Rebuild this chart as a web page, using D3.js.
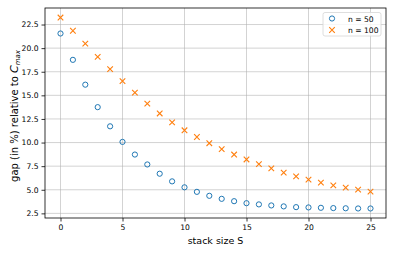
<!DOCTYPE html>
<html>
<head>
<meta charset="utf-8">
<script src="https://cdn.jsdelivr.net/npm/d3@7"></script>
<style>
  body { margin: 0; background: #fff; }
  text { font-family: "DejaVu Sans", sans-serif; fill: #000; }
</style>
</head>
<body>
<div id="chart"></div>
<script>
// stack sizes S = 0..25
const stackSizes = d3.range(0, 26);

// gap (in %) for n = 50
const gapN50 = [21.55, 18.76, 16.13, 13.75, 11.72, 10.07, 8.73, 7.68, 6.70, 5.89,
  5.26, 4.78, 4.36, 4.04, 3.79, 3.58, 3.45, 3.34, 3.24, 3.16,
  3.13, 3.09, 3.06, 3.04, 3.02, 3.02];

// gap (in %) for n = 100
const gapN100 = [23.24, 21.84, 20.47, 19.07, 17.77, 16.51, 15.29, 14.13, 13.08, 12.14,
  11.30, 10.59, 9.93, 9.30, 8.73, 8.21, 7.72, 7.26, 6.81, 6.42,
  6.07, 5.76, 5.47, 5.23, 5.02, 4.81];

const xTicks = [0, 5, 10, 15, 20, 25];
const yTicks = [2.5, 5.0, 7.5, 10.0, 12.5, 15.0, 17.5, 20.0, 22.5];
const seriesNames = ["n = 50", "n = 100"];

const width = 395;
const height = 254;
const margin = { top: 8, right: 9, bottom: 36, left: 45 };

const svg = d3.select("#chart")
  .append("svg")
  .attr("width", width)
  .attr("height", height);

const x = d3.scaleLinear()
  .domain([-1.25, 26.25])
  .range([margin.left, width - margin.right]);

const y = d3.scaleLinear()
  .domain([2.01, 24.25])
  .range([height - margin.bottom, margin.top]);

// --- Grid ---
const grid = svg.append("g").attr("stroke", "#b0b0b0").attr("stroke-opacity", 0.7).attr("stroke-width", 0.8);
grid.selectAll(".gx").data(xTicks).join("line")
  .attr("x1", d => x(d)).attr("x2", d => x(d))
  .attr("y1", margin.top).attr("y2", height - margin.bottom);
grid.selectAll(".gy").data(yTicks).join("line")
  .attr("x1", margin.left).attr("x2", width - margin.right)
  .attr("y1", d => y(d)).attr("y2", d => y(d));

// --- Axes ---
const xAxis = svg.append("g")
  .attr("transform", `translate(0,${height - margin.bottom})`)
  .call(d3.axisBottom(x).tickValues(xTicks).tickSize(3.5).tickPadding(3).tickFormat(d3.format("d")));

const yAxis = svg.append("g")
  .attr("transform", `translate(${margin.left},0)`)
  .call(d3.axisLeft(y).tickValues(yTicks).tickSize(3.5).tickPadding(3).tickFormat(d3.format(".1f")));

[xAxis, yAxis].forEach(a => {
  a.select(".domain").remove();
  a.selectAll("text").style("font-size", "7.6px").attr("fill", "#000");
  a.selectAll("line").attr("stroke", "#000").attr("stroke-width", 0.8);
});

// frame
svg.append("rect")
  .attr("x", margin.left).attr("y", margin.top)
  .attr("width", width - margin.left - margin.right)
  .attr("height", height - margin.top - margin.bottom)
  .attr("fill", "none").attr("stroke", "#000").attr("stroke-width", 0.8);

// --- Labels ---
svg.append("text")
  .attr("x", (margin.left + width - margin.right) / 2)
  .attr("y", 244)
  .attr("text-anchor", "middle")
  .style("font-size", "9.5px")
  .text("stack size S");

const yl = svg.append("text")
  .attr("transform", `translate(18,${(margin.top + height - margin.bottom) / 2 + 3}) rotate(-90)`)
  .attr("text-anchor", "middle")
  .style("font-size", "10px");
yl.append("tspan").text("gap (in %) relative to ");
yl.append("tspan").attr("font-style", "italic").style("font-size", "11px").text("C");
yl.append("tspan").attr("font-style", "italic").attr("dy", 2).style("font-size", "7px").text("max");

// --- Markers ---
const blue = "#1f77b4";
const orange = "#ff7f0e";

svg.append("g").selectAll("circle")
  .data(stackSizes)
  .join("circle")
  .attr("cx", d => x(d))
  .attr("cy", (d, i) => y(gapN50[i]))
  .attr("r", 2.6)
  .attr("fill", "none")
  .attr("stroke", blue)
  .attr("stroke-width", 1);

const cross = d3.symbol().type(d3.symbolX).size(22);
svg.append("g").selectAll("path")
  .data(stackSizes)
  .join("path")
  .attr("transform", (d, i) => `translate(${x(d)},${y(gapN100[i])})`)
  .attr("d", cross)
  .attr("fill", "none")
  .attr("stroke", orange)
  .attr("stroke-width", 1.1);

// --- Legend ---
const legend = svg.append("g").attr("transform", "translate(323,12.5)");
legend.append("rect")
  .attr("width", 58).attr("height", 23.5).attr("rx", 2)
  .attr("fill", "#fff").attr("fill-opacity", 0.8)
  .attr("stroke", "#d6d6d6").attr("stroke-width", 0.8);

const rows = legend.selectAll(".row").data(seriesNames).join("g")
  .attr("transform", (d, i) => `translate(0,${6 + i * 11.5})`);
rows.append("text")
  .attr("x", 25).attr("y", 3)
  .style("font-size", "7.6px")
  .text(d => d);
rows.filter((d, i) => i === 0).append("circle")
  .attr("cx", 9).attr("r", 2.6)
  .attr("fill", "none").attr("stroke", blue).attr("stroke-width", 1);
rows.filter((d, i) => i === 1).append("path")
  .attr("transform", "translate(9,0)")
  .attr("d", cross)
  .attr("fill", "none").attr("stroke", orange).attr("stroke-width", 1.1);
</script>
</body>
</html>
